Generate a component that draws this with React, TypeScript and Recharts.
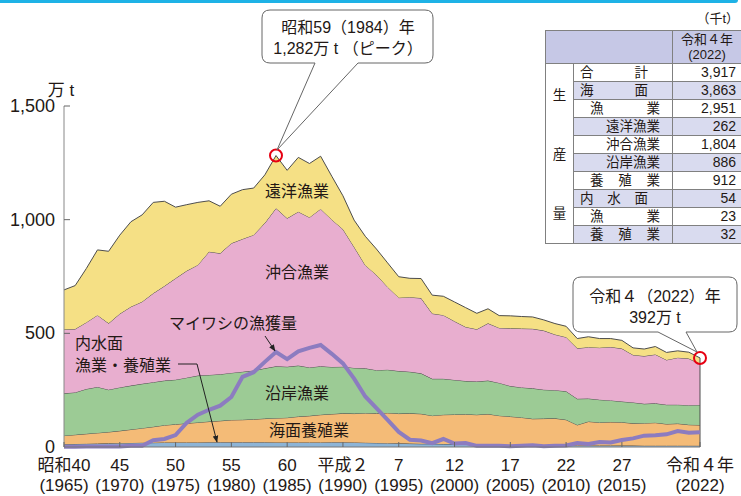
import { ComposedChart, Area, Line, XAxis, YAxis, ReferenceDot, ReferenceLine } from "recharts";

// 万t
const years = [
  1965, 1966, 1967, 1968, 1969, 1970, 1971, 1972, 1973, 1974,
  1975, 1976, 1977, 1978, 1979, 1980, 1981, 1982, 1983, 1984,
  1985, 1986, 1987, 1988, 1989, 1990, 1991, 1992, 1993, 1994,
  1995, 1996, 1997, 1998, 1999, 2000, 2001, 2002, 2003, 2004,
  2005, 2006, 2007, 2008, 2009, 2010, 2011, 2012, 2013, 2014,
  2015, 2016, 2017, 2018, 2019, 2020, 2021, 2022,
];
const inland = [
  12, 13, 14, 15, 16, 17, 18, 19, 19, 20,
  20, 20, 20, 21, 21, 21, 21, 21, 21, 20,
  20, 20, 20, 20, 21, 21, 20, 19, 18, 17,
  16, 15, 14, 14, 13, 13, 12, 11, 10, 9,
  8, 8, 8, 8, 8, 8, 7, 7, 7, 7,
  6.5, 6.5, 6, 6, 6, 6, 5.8, 5.4,
];
const aquaculture = [
  38, 41, 44, 47, 50, 54, 59, 64, 70, 76,
  80, 84, 88, 91, 94, 98, 99, 101, 104, 107,
  109, 114, 117, 122, 124, 127, 127, 130, 130, 133,
  131, 133, 132, 124, 129, 130, 132, 131, 135, 129,
  126, 122, 116, 117, 118, 112, 90, 105, 101, 103,
  102.5, 97.5, 99, 101, 95, 97, 92.2, 91.2,
];
const coastal = [
  186, 186, 197, 202, 186, 191, 193, 195, 196, 196,
  196, 201, 206, 205, 205, 207, 211, 214, 221, 228,
  224, 224, 213, 213, 207, 205, 201, 197, 190, 190,
  187, 183, 178, 162, 158, 152, 146, 146, 147, 144,
  134, 132, 134, 127, 124, 125, 115, 101, 100, 95,
  91, 92, 85, 85, 85, 83, 86, 88.6,
];
const offshore = [
  281, 279, 293, 316, 292, 324, 347, 361, 391, 416,
  446, 470, 487, 542, 532, 570, 584, 597, 639, 695,
  653, 677, 660, 692, 648, 605, 532, 454, 419, 364,
  323, 328, 331, 287, 280, 258, 238, 230, 252, 242,
  254, 259, 262, 260, 245, 238, 222, 226, 229, 235,
  233, 209, 210, 215, 197, 207, 205, 180.4,
];
const distant = [
  174, 191, 237, 287, 317, 346, 374, 382, 400, 373,
  313, 291, 275, 224, 207, 216, 217, 206, 212, 232,
  211, 239, 237, 232, 191, 147, 118, 127, 114, 106,
  92, 83, 86, 81, 83, 85, 85, 70, 64, 54,
  55, 53, 52, 47, 48, 48, 43, 46, 40, 37,
  36, 31, 31, 35, 33, 30, 28, 26.2,
];
const sardine = [
  0.9, 1.3, 1.7, 2.5, 1.7, 1.7, 5.7, 5.8, 29.7, 35.2,
  52.6, 106.6, 142.0, 163.7, 181.7, 219.8, 308.9, 329.0, 374.5, 417.9,
  386.6, 421.0, 436.2, 448.8, 409.9, 367.8, 301.0, 222.4, 171.4, 118.9,
  66.1, 31.9, 28.4, 16.7, 35.1, 15.0, 17.8, 5.0, 5.2, 5.0,
  2.8, 5.3, 7.9, 3.5, 5.7, 7.0, 17.6, 13.5, 21.5, 19.6,
  31.1, 37.8, 50.0, 52.2, 55.6, 69.8, 62.7, 64.5,
];

const xTicks = [1965, 1970, 1975, 1980, 1985, 1990, 1995, 2000, 2005, 2010, 2015, 2022];
const eraLabels = ["昭和40", "45", "50", "55", "60", "平成２", "7", "12", "17", "22", "27", "令和４年"];
const yTicks = [0, 500, 1000, 1500];

// 千t
const tableLabels = ["合計", "海面", "漁業", "遠洋漁業", "沖合漁業", "沿岸漁業", "養殖業", "内水面", "漁業", "養殖業"];
const tableIndent = [0, 0, 1, 2, 2, 2, 1, 0, 1, 1];
const tableValues = [3917, 3863, 2951, 262, 1804, 886, 912, 54, 23, 32];

const data = years.map((year, i) => ({
  year,
  inland: inland[i],
  aquaculture: aquaculture[i],
  coastal: coastal[i],
  offshore: offshore[i],
  distant: distant[i],
  sardine: sardine[i],
  total: inland[i] + aquaculture[i] + coastal[i] + offshore[i] + distant[i],
}));
const peak = data.reduce((a, b) => (b.total > a.total ? b : a));
const last = data[data.length - 1];

const FONT = '"Liberation Sans", "Noto Sans CJK JP", sans-serif';
const INK = "#231815";
const LAV = "#d9dbef";
const OUTLINE = "#4d4d4d";

function XTick({ x, y, payload }: any) {
  const i = xTicks.indexOf(payload.value);
  return (
    <g>
      <line x1={x} x2={x} y1={y} y2={y - 5} stroke="#666" />
      <text x={x} y={y + 24} textAnchor="middle" fontSize={17} fill={INK} fontFamily={FONT}>{eraLabels[i]}</text>
      <text x={x} y={y + 44} textAnchor="middle" fontSize={17} fill={INK} fontFamily={FONT}>({payload.value})</text>
    </g>
  );
}

function YTick({ x, y, payload }: any) {
  return (
    <g>
      {payload.value > 0 && <line x1={x} x2={x + 6} y1={y} y2={y} stroke="#666" />}
      <text x={x - 9} y={y + 6} textAnchor="end" fontSize={18} fill={INK} fontFamily={FONT}>
        {payload.value.toLocaleString("en-US")}
      </text>
    </g>
  );
}

function Table() {
  const cell = { border: "1px solid #808080", padding: 0, height: 17 };
  return (
    <div style={{ position: "absolute", left: 545, top: 8, fontFamily: FONT, color: INK }}>
      <div style={{ textAlign: "right", fontSize: 13, paddingRight: 3, height: 22 }}>（千t）</div>
      <table style={{ borderCollapse: "collapse", tableLayout: "fixed", width: 196, fontSize: 13.5 }}>
        <colgroup>
          <col style={{ width: 28 }} />
          <col style={{ width: 99 }} />
          <col style={{ width: 69 }} />
        </colgroup>
        <tbody>
          <tr>
            <td colSpan={2} style={{ ...cell, height: 32, background: "#c6c8e6" }} />
            <td style={{ ...cell, height: 32, background: "#c6c8e6", textAlign: "center", fontSize: 13, lineHeight: "15px" }}>
              令和４年<br />(2022)
            </td>
          </tr>
          {tableLabels.map((label, i) => {
            const bg = i % 2 === 1 ? LAV : "#fff";
            const ind = tableIndent[i];
            const pad = ind === 0 ? "0 24px 0 6px" : ind === 1 ? "0 12px 0 16px" : "0 12px 0 0";
            return (
              <tr key={i}>
                {i === 0 && (
                  <td rowSpan={tableLabels.length} style={{ ...cell, background: "#fff", verticalAlign: "top" }}>
                    <div style={{ height: 178, display: "flex", flexDirection: "column", justifyContent: "space-around", alignItems: "center" }}>
                      <span>生</span><span>産</span><span>量</span>
                    </div>
                  </td>
                )}
                <td style={{ ...cell, background: bg }}>
                  <div style={{ display: "flex", justifyContent: ind === 2 ? "flex-end" : "space-between", padding: pad, lineHeight: "17px" }}>
                    {ind === 2 ? <span>{label}</span> : label.split("").map((c, k) => <span key={k}>{c}</span>)}
                  </div>
                </td>
                <td style={{ ...cell, background: bg, textAlign: "right", paddingRight: 5, fontSize: 14, lineHeight: "17px" }}>
                  {tableValues[i].toLocaleString("en-US")}
                </td>
              </tr>
            );
          })}
        </tbody>
      </table>
    </div>
  );
}

function Overlay() {
  const t = { fontFamily: FONT, fill: INK };
  return (
    <svg width={741} height={496} style={{ position: "absolute", left: 0, top: 0, pointerEvents: "none" }}>
      <defs>
        <marker id="arr" viewBox="0 0 10 10" refX="9" refY="5" markerWidth="7" markerHeight="7" orient="auto">
          <path d="M0,1 L10,5 L0,9 Z" fill="#222" />
        </marker>
      </defs>
      <text x={61} y={96} textAnchor="middle" fontSize={17} {...t}>万 t</text>

      <path d="M270,10 H425 Q433,10 433,18 V55 Q433,63 425,63 H358 L277,150 L315,63 H270 Q262,63 262,55 V18 Q262,10 270,10 Z"
        fill="#fff" stroke="#666" strokeWidth={1} />
      <text x={348} y={33} textAnchor="middle" fontSize={16} {...t}>昭和59（1984）年</text>
      <text x={348} y={54} textAnchor="middle" fontSize={16} {...t}>1,282万 t （ピーク）</text>

      <path d="M581,277 H729 Q737,277 737,285 V324 Q737,332 729,332 H686 L697,352 L658,332 H581 Q573,332 573,324 V285 Q573,277 581,277 Z"
        fill="#fff" stroke="#666" strokeWidth={1} />
      <text x={655} y={302} textAnchor="middle" fontSize={16} {...t}>令和４（2022）年</text>
      <text x={655} y={323} textAnchor="middle" fontSize={16} {...t}>392万 t</text>

      <text x={297} y={197} textAnchor="middle" fontSize={16} {...t}>遠洋漁業</text>
      <text x={297} y={278} textAnchor="middle" fontSize={16} {...t}>沖合漁業</text>
      <text x={297} y={399} textAnchor="middle" fontSize={16} {...t}>沿岸漁業</text>
      <text x={309} y={436} textAnchor="middle" fontSize={16} {...t}>海面養殖業</text>
      <text x={233} y={329} textAnchor="middle" fontSize={16} {...t}>マイワシの漁獲量</text>
      <text x={75} y={349} fontSize={16} {...t}>内水面</text>
      <text x={75} y={371} fontSize={16} {...t}>漁業・養殖業</text>

      <line x1={265} y1={336} x2={275} y2={351} stroke="#222" strokeWidth={1} markerEnd="url(#arr)" />
      <polyline points="178,364 197,364 217,442" fill="none" stroke="#222" strokeWidth={1} markerEnd="url(#arr)" />
    </svg>
  );
}

export default function App() {
  return (
    <div style={{ position: "relative", width: 741, height: 496, background: "#fff", overflow: "hidden" }}>
      <style>{"body{margin:0}"}</style>
      <div style={{ position: "absolute", left: 0, top: 0, width: 738, height: 3, background: "#1eb2e6", borderBottomRightRadius: 3 }} />
      <div style={{ position: "absolute", left: 0, top: 0 }}>
        <ComposedChart width={741} height={496} data={data} margin={{ top: 106, right: 41, bottom: 9, left: 4 }}>
          <XAxis
            type="number"
            dataKey="year"
            domain={[1965, 2022]}
            ticks={xTicks}
            interval={0}
            height={40}
            tickSize={0}
            tickMargin={0}
            tickLine={false}
            axisLine={{ stroke: "#777" }}
            tick={<XTick />}
          />
          <YAxis
            domain={[0, 1500]}
            ticks={yTicks}
            width={60}
            tickSize={0}
            tickMargin={0}
            tickLine={false}
            axisLine={{ stroke: "#888" }}
            tick={<YTick />}
          />
          <Area type="linear" dataKey="inland" stackId="1" fill="#8db4d6" fillOpacity={1} stroke={OUTLINE} strokeWidth={1} isAnimationActive={false} />
          <Area type="linear" dataKey="aquaculture" stackId="1" fill="#f4bb77" fillOpacity={1} stroke={OUTLINE} strokeWidth={1} isAnimationActive={false} />
          <Area type="linear" dataKey="coastal" stackId="1" fill="#9ccb95" fillOpacity={1} stroke={OUTLINE} strokeWidth={1} isAnimationActive={false} />
          <Area type="linear" dataKey="offshore" stackId="1" fill="#e8aecf" fillOpacity={1} stroke={OUTLINE} strokeWidth={1} isAnimationActive={false} />
          <Area type="linear" dataKey="distant" stackId="1" fill="#f5e085" fillOpacity={1} stroke={OUTLINE} strokeWidth={1} isAnimationActive={false} />
          <ReferenceLine segment={[{ x: last.year, y: 0 }, { x: last.year, y: last.total }]} stroke={OUTLINE} />
          <Line type="linear" dataKey="sardine" stroke="#8c7cc0" strokeWidth={4} dot={false} isAnimationActive={false} />
          <ReferenceDot x={peak.year} y={peak.total} r={6} fill="none" stroke="#e60012" strokeWidth={2} ifOverflow="visible" />
          <ReferenceDot x={last.year} y={last.total} r={6} fill="none" stroke="#e60012" strokeWidth={2} ifOverflow="visible" />
        </ComposedChart>
      </div>
      <Overlay />
      <Table />
    </div>
  );
}
